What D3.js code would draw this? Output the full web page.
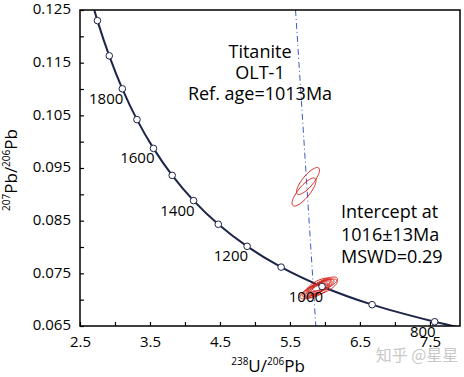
<!DOCTYPE html>
<html>
<head>
<meta charset="utf-8">
<script src="https://cdn.jsdelivr.net/npm/d3@7"></script>
<style>
  body { margin: 0; background: #fff; }
  text { font-family: "Open Sans", "Noto Sans", sans-serif; }
</style>
</head>
<body>
<svg id="chart" width="464" height="377"></svg>
<script>
// axis ticks
const xTicks = [2.5, 3.5, 4.5, 5.5, 6.5, 7.5];
const yTicks = [0.065, 0.075, 0.085, 0.095, 0.105, 0.115, 0.125];

// concordia points (age in Ma, 238U/206Pb, 207Pb/206Pb)
const concAge = [770, 800, 900, 1000, 1100, 1200, 1300, 1400, 1500, 1600, 1700, 1800, 1900, 2000, 2100];
const concX = [7.882, 7.568, 6.674, 5.959, 5.374, 4.888, 4.476, 4.123, 3.817, 3.550, 3.314, 3.105, 2.918, 2.749, 2.597];
const concY = [0.06486, 0.06580, 0.06905, 0.07250, 0.07618, 0.08013, 0.08432, 0.08881, 0.09360, 0.09872, 0.10419, 0.11004, 0.11630, 0.12299, 0.13016];
const markerAges = [800, 900, 1000, 1100, 1200, 1300, 1400, 1500, 1600, 1700, 1800, 1900, 2000];
const labelAges = [800, 1000, 1200, 1400, 1600, 1800];

// analyses: centre, 2s half-widths, correlation
const ellX = [5.701, 5.758, 5.815, 5.844, 5.872, 5.901, 5.887, 5.930, 5.958, 5.915, 6.001, 5.987];
const ellY = [0.09044, 0.09253, 0.07146, 0.07184, 0.07203, 0.07222, 0.07165, 0.07241, 0.07259, 0.07278, 0.07297, 0.07241];
const ellSx = [0.171, 0.164, 0.171, 0.171, 0.171, 0.171, 0.171, 0.171, 0.171, 0.171, 0.178, 0.19];
const ellSy = [0.00266, 0.00256, 0.00133, 0.00133, 0.00133, 0.00133, 0.00133, 0.00133, 0.00133, 0.00133, 0.00133, 0.00152];
const ellRho = [0.8, 0.8, 0.7, 0.7, 0.7, 0.7, 0.7, 0.7, 0.7, 0.7, 0.7, 0.7];

// regression line end points
const lineX = [5.58, 5.87];
const lineY = [0.125, 0.065];

const svg = d3.select("#chart");
const mLeft = 80, mRight = 460, mTop = 10, mBottom = 326;

const x = d3.scaleLinear().domain([2.5, 7.93]).range([mLeft, mRight]);
const y = d3.scaleLinear().domain([0.065, 0.125]).range([mBottom, mTop]);

svg.append("defs").append("clipPath").attr("id", "plot")
  .append("rect").attr("x", mLeft).attr("y", mTop)
  .attr("width", mRight - mLeft).attr("height", mBottom - mTop);

const plot = svg.append("g").attr("clip-path", "url(#plot)");

// discordia line
plot.append("line")
  .attr("x1", x(lineX[0])).attr("y1", y(lineY[0]))
  .attr("x2", x(lineX[1])).attr("y2", y(lineY[1]))
  .attr("stroke", "#3b5bc4").attr("stroke-width", 1)
  .attr("stroke-dasharray", "6,3,1,3");

// concordia
const conc = concX.map((v, i) => [v, concY[i]]);
plot.append("path")
  .datum(conc)
  .attr("fill", "none")
  .attr("stroke", "#1c2447")
  .attr("stroke-width", 2)
  .attr("d", d3.line().x(d => x(d[0])).y(d => y(d[1])).curve(d3.curveCatmullRom));

// error ellipses
const ellipse = function (i) {
  let pts = [];
  for (let k = 0; k <= 72; k++) {
    let t = k / 72 * 2 * Math.PI;
    let px = ellX[i] + ellSx[i] * Math.cos(t);
    let py = ellY[i] + ellSy[i] * (ellRho[i] * Math.cos(t) + Math.sqrt(1 - ellRho[i] * ellRho[i]) * Math.sin(t));
    pts.push([x(px), y(py)]);
  }
  return d3.line()(pts) + "Z";
};
plot.selectAll("path.ell").data(d3.range(ellX.length))
  .join("path")
  .attr("class", "ell")
  .attr("d", ellipse)
  .attr("fill", "none")
  .attr("stroke", "#d42a22")
  .attr("stroke-width", 1);

// age markers
const ageIndex = a => concAge.indexOf(a);
svg.selectAll("circle.age").data(markerAges)
  .join("circle")
  .attr("class", "age")
  .attr("cx", a => x(concX[ageIndex(a)]))
  .attr("cy", a => y(concY[ageIndex(a)]))
  .attr("r", 3.3)
  .attr("fill", "#fff")
  .attr("stroke", "#1c2447")
  .attr("stroke-width", 1);

svg.selectAll("text.age").data(labelAges)
  .join("text")
  .attr("class", "age")
  .attr("x", a => x(concX[ageIndex(a)]) + 1)
  .attr("y", a => y(concY[ageIndex(a)]) + 15)
  .attr("text-anchor", "end")
  .attr("font-size", 15)
  .text(a => a);

// axes
const xAxis = d3.axisBottom(x).tickValues(d3.range(2.5, 7.51, 0.5)).tickSize(-4)
  .tickFormat(d => xTicks.some(v => Math.abs(v - d) < 1e-9) ? d.toFixed(1) : "");
const yAxis = d3.axisLeft(y).tickValues(d3.range(0.065, 0.1251, 0.005)).tickSize(-4)
  .tickFormat(d => yTicks.some(v => Math.abs(v - d) < 1e-9) ? d.toFixed(3) : "");

const gx = svg.append("g").attr("transform", `translate(0,${mBottom})`).call(xAxis);
const gy = svg.append("g").attr("transform", `translate(${mLeft},0)`).call(yAxis);
[gx, gy].forEach(g => {
  g.select(".domain").remove();
  g.selectAll(".tick line").attr("stroke", "#000").attr("stroke-width", 1.2);
  g.selectAll(".tick text").attr("font-size", 15).attr("fill", "#000")
    .style("font-family", '"Open Sans", sans-serif');
});
gx.selectAll(".tick text").attr("y", 10);
gy.selectAll(".tick text").attr("x", -9).attr("dy", "0.25em");

// frame
svg.append("rect")
  .attr("x", mLeft).attr("y", mTop)
  .attr("width", mRight - mLeft).attr("height", mBottom - mTop)
  .attr("fill", "none").attr("stroke", "#000").attr("stroke-width", 1.5);

// axis titles
const xt = svg.append("text").attr("x", 268).attr("y", 372).attr("text-anchor", "middle").attr("font-size", 17);
xt.append("tspan").attr("font-size", 10).attr("dy", -7).text("238");
xt.append("tspan").attr("dy", 7).text("U/");
xt.append("tspan").attr("font-size", 10).attr("dy", -7).text("206");
xt.append("tspan").attr("dy", 7).text("Pb");

const yt = svg.append("text").attr("transform", "translate(17,170) rotate(-90)")
  .attr("text-anchor", "middle").attr("font-size", 17);
yt.append("tspan").attr("font-size", 10).attr("dy", -7).text("207");
yt.append("tspan").attr("dy", 7).text("Pb/");
yt.append("tspan").attr("font-size", 10).attr("dy", -7).text("206");
yt.append("tspan").attr("dy", 7).text("Pb");

// annotations
const note1 = ["Titanite", "OLT-1", "Ref. age=1013Ma"];
svg.selectAll("text.note1").data(note1)
  .join("text")
  .attr("class", "note1")
  .attr("x", 260)
  .attr("y", (d, i) => 58 + i * 21)
  .attr("text-anchor", "middle")
  .attr("font-size", 18)
  .text(d => d);

const note2 = ["Intercept at", "1016\u00b113Ma", "MSWD=0.29"];
svg.selectAll("text.note2").data(note2)
  .join("text")
  .attr("class", "note2")
  .attr("x", 341)
  .attr("y", (d, i) => 218 + i * 22.5)
  .attr("font-size", 18)
  .text(d => d);

// watermark
svg.append("text")
  .attr("x", 417).attr("y", 361)
  .attr("text-anchor", "middle")
  .attr("font-size", 16)
  .attr("fill", "#c8c8c8")
  .style("font-family", '"Noto Sans CJK SC", sans-serif')
  .text("知乎 @星星");
</script>
</body>
</html>
